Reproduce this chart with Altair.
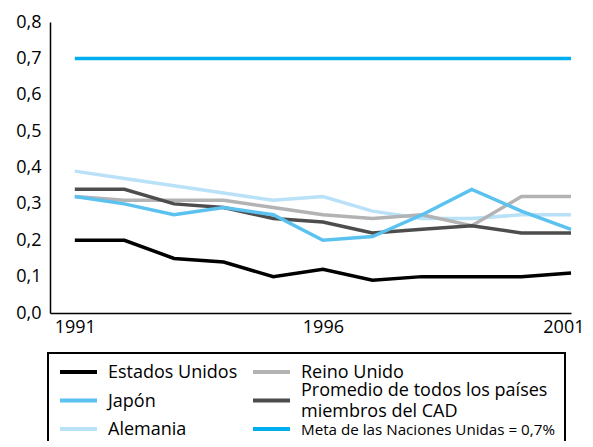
import altair as alt
import pandas as pd

years = list(range(1991, 2002))
estados_unidos = [0.20, 0.20, 0.15, 0.14, 0.10, 0.12, 0.09, 0.10, 0.10, 0.10, 0.11]
japon = [0.32, 0.30, 0.27, 0.29, 0.27, 0.20, 0.21, 0.27, 0.34, 0.28, 0.23]
alemania = [0.39, 0.37, 0.35, 0.33, 0.31, 0.32, 0.28, 0.26, 0.26, 0.27, 0.27]
reino_unido = [0.32, 0.31, 0.31, 0.31, 0.29, 0.27, 0.26, 0.27, 0.24, 0.32, 0.32]
promedio = [0.34, 0.34, 0.30, 0.29, 0.26, 0.25, 0.22, 0.23, 0.24, 0.22, 0.22]
meta_years = [1991, 2001]
meta = [0.70, 0.70]

series = ["Estados Unidos", "Japón", "Alemania", "Reino Unido",
          "Promedio de todos los países miembros del CAD",
          "Meta de las Naciones Unidas = 0,7%"]
legend_texts = ["Estados Unidos", "Japón", "Alemania", "Reino Unido",
                "Promedio de todos los países\nmiembros del CAD",
                "Meta de las Naciones Unidas = 0,7%"]
legend_col = [0, 0, 0, 1, 1, 1]
legend_row = [0, 1, 2, 0, 1, 2]
colors = ["#000000", "#5bc2ef", "#b9e1f7", "#b3b3b3", "#4d4d4d", "#00aeef"]

rows = []
for name, xs, vals in [
    (series[5], meta_years, meta),
    (series[2], years, alemania),
    (series[3], years, reino_unido),
    (series[4], years, promedio),
    (series[1], years, japon),
    (series[0], years, estados_unidos),
]:
    for x, v in zip(xs, vals):
        rows.append({"serie": name, "anio": x, "valor": v})
df = pd.DataFrame(rows)

leg = pd.DataFrame({"serie": series, "texto": legend_texts,
                    "lcol": legend_col, "lrow": legend_row})

FONT = "Open Sans"
color_scale = alt.Scale(domain=series, range=colors)

lines = alt.Chart(df).mark_line(strokeWidth=3.5, strokeJoin="miter", strokeCap="butt").encode(
    x=alt.X(
        "anio:Q",
        scale=alt.Scale(domain=[1990.5, 2001], nice=False, zero=False),
        axis=alt.Axis(
            values=[1991, 1996, 2001],
            format="d",
            ticks=False,
            grid=False,
            title=None,
            domainColor="black",
            domainWidth=1.5,
            labelFont=FONT,
            labelFontSize=18,
            labelColor="black",
            labelPadding=5,
            labelFlush=True,
            labelFlushOffset=13,
        ),
    ),
    y=alt.Y(
        "valor:Q",
        scale=alt.Scale(domain=[0, 0.8], nice=False),
        axis=alt.Axis(
            values=[0, 0.1, 0.2, 0.3, 0.4, 0.5, 0.6, 0.7, 0.8],
            labelExpr="replace(format(datum.value, '.1f'), '.', ',')",
            ticks=False,
            grid=False,
            title=None,
            domainColor="black",
            domainWidth=1.5,
            labelFont=FONT,
            labelFontSize=18,
            labelColor="black",
            labelPadding=9,
        ),
    ),
    color=alt.Color("serie:N", scale=color_scale, legend=None),
)

lx = alt.X("lcol:Q", scale=alt.Scale(domain=[0, 1], range=[10, 203]), axis=None)
ly = alt.Y("lrow:Q", scale=alt.Scale(domain=[0, 2], range=[350, 407]), axis=None)

leg_rules = alt.Chart(leg).mark_rule(strokeWidth=4, strokeCap="butt", x2Offset=37).encode(
    x=lx,
    x2=alt.X2("lcol:Q"),
    y=ly,
    color=alt.Color("serie:N", scale=color_scale, legend=None),
)

one_line = "indexof(datum.texto, '\\n') < 0"
two_lines = "indexof(datum.texto, '\\n') >= 0"

leg_text1 = alt.Chart(leg).transform_filter(one_line).mark_text(
    align="left", baseline="middle", dx=48, dy=1, font=FONT, color="black",
).encode(
    x=lx,
    y=ly,
    text="texto:N",
    size=alt.condition((alt.datum.lcol == 1) & (alt.datum.lrow == 2),
                       alt.value(15.2), alt.value(18)),
)

leg_text2 = alt.Chart(leg).transform_filter(two_lines).mark_text(
    align="left", baseline="middle", dx=48, dy=-9.5, font=FONT, color="black",
    lineBreak="\n", lineHeight=21, fontSize=18,
).encode(
    x=lx,
    y=ly,
    text="texto:N",
)

box = alt.Chart(leg).mark_rect(fill=None, stroke="black", strokeWidth=1.5).encode(
    x=alt.value(-2), x2=alt.value(515), y=alt.value(331), y2=alt.value(460),
)

chart = (
    alt.layer(lines, box, leg_rules, leg_text1, leg_text2)
    .resolve_scale(x="independent", y="independent")
    .properties(
        width=521,
        height=291,
        autosize=alt.AutoSizeParams(type="none"),
        padding={"left": 42, "top": 14, "right": 14, "bottom": 128},
    )
    .configure_view(stroke=None)
)

chart.save("out.html", embed_options={"renderer": "svg", "actions": False})
